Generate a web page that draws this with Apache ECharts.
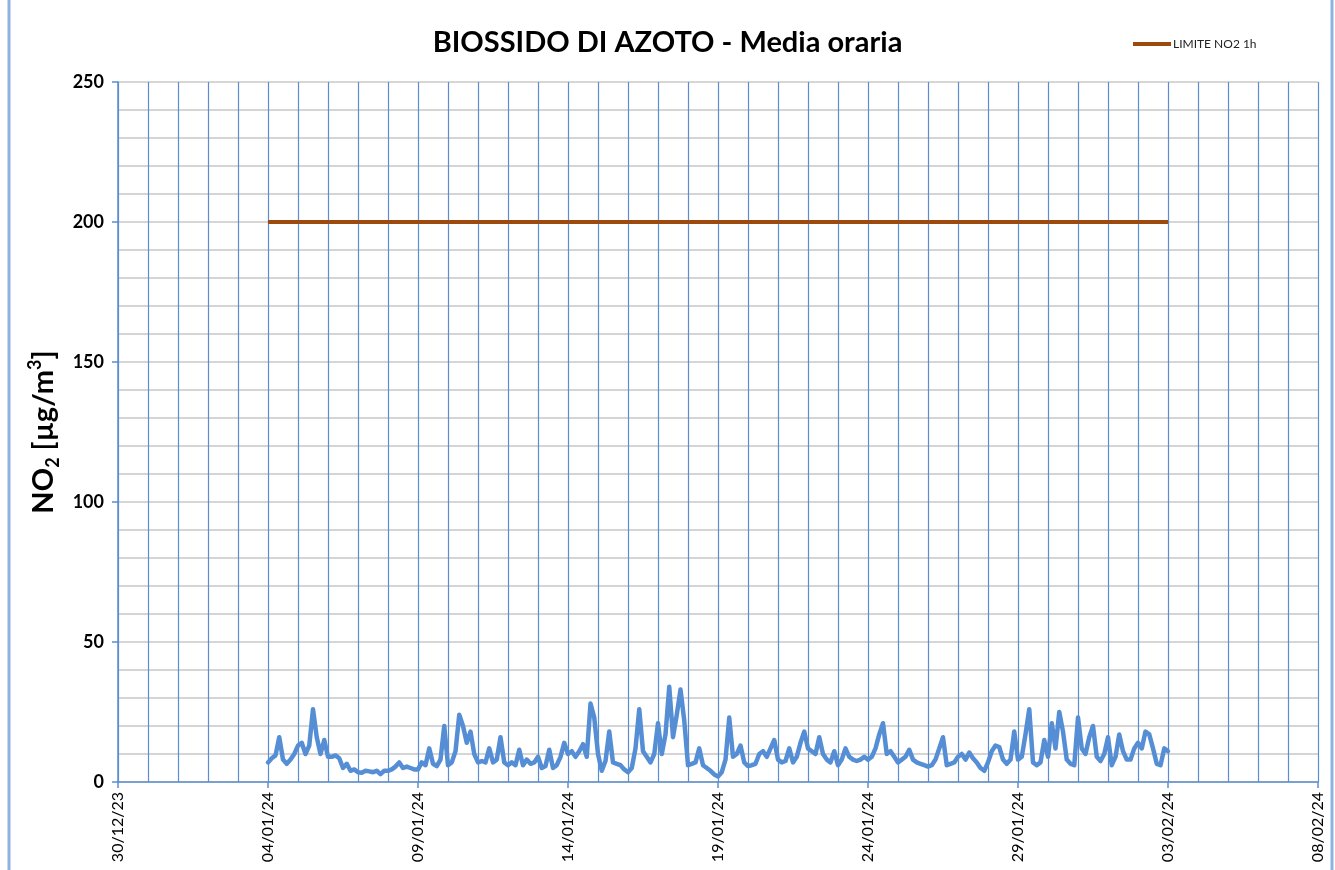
<!DOCTYPE html>
<html>
<head>
<meta charset="utf-8">
<script src="https://cdn.jsdelivr.net/npm/echarts@6/dist/echarts.min.js"></script>
<style>
html,body{margin:0;padding:0;background:#fff;}
#chart{width:1335px;height:870px;}
</style>
</head>
<body>
<div id="chart"></div>
<script>
// x axis: day index counted from 30/12/23 (0) to 08/02/24 (40)
const tickLabels = ['30/12/23','04/01/24','09/01/24','14/01/24','19/01/24','24/01/24','29/01/24','03/02/24','08/02/24'];
const seriesStartDay = 5;        // 04/01/24
const samplesPerDay = 8;         // 3-hour readings
// NO2 hourly mean, sampled every 3 hours, 04/01/24 00:00 -> 03/02/24 00:00
const no2Values = [
  7, 8.5, 9.5, 16, 8, 6.5, 8, 10,
  13, 14, 10, 13, 26, 16, 10, 15,
  9, 9, 9.5, 8.5, 5, 6.5, 4, 4.5,
  3.5, 3.3, 4, 3.8, 3.5, 4, 2.8, 4,
  4, 4.5, 5.5, 7, 5, 5.5, 5, 4.5,
  4.5, 7, 6, 12, 6.5, 5.7, 8, 20,
  6, 7, 11, 24, 20, 14, 18, 10,
  7, 7.5, 7, 12, 7, 8, 16, 7,
  6, 7, 6, 11.5, 6, 8, 6.5, 7,
  9, 5, 5.7, 11.5, 5, 6, 9, 14,
  10, 11, 9, 11, 13.5, 9, 28, 23,
  10, 4, 7.5, 18, 7, 6.5, 6, 4.5,
  3.5, 5, 12, 26, 11, 9, 7, 10,
  21, 10, 17, 34, 16, 24, 33, 22,
  6, 6.5, 7, 12, 6, 5, 4, 2.7,
  2, 3.5, 8, 23, 9, 10, 13, 7,
  5.7, 6, 6.5, 10, 11, 9, 12, 15,
  8, 7, 7.5, 12, 7, 9, 14, 18,
  12, 11, 10, 16, 10, 8, 7, 11,
  6, 8, 12, 9, 8, 7.5, 8, 9,
  8, 9, 12, 17, 21, 10, 11, 9,
  7, 8, 9, 11.5, 8, 7, 6.5, 6,
  5.5, 6, 8, 12, 16, 6, 6.5, 7,
  9, 10, 8, 10.5, 8.5, 7, 5, 4,
  7, 11, 13, 12.5, 8, 6.5, 8, 18,
  8, 9, 17, 26, 7, 6, 7, 15,
  9, 21, 12, 25, 18, 8, 6.5, 6,
  23, 12, 10, 16, 20, 9, 7.5, 10,
  16, 6, 9, 17, 11, 8, 8, 12,
  14, 12, 18, 17, 12, 6.5, 6, 12,
  11
];
const limitStartDay = 5;   // 04/01/24
const limitEndDay = 35;    // 03/02/24
const limitValue = 200;

const no2Data = no2Values.map((v, i) => [seriesStartDay + i / samplesPerDay, v]);
const limitData = [[limitStartDay, limitValue], [limitEndDay, limitValue]];

const chart = echarts.init(document.getElementById('chart'), null, {renderer: 'canvas'});
const blue = '#5b8ed0';
chart.setOption({
  backgroundColor: '#ffffff',
  animation: false,
  title: {
    text: 'BIOSSIDO DI AZOTO - Media oraria',
    left: 'center',
    top: 23,
    textStyle: {fontFamily: 'Lato', fontWeight: 'bold', fontSize: 29, color: '#000'}
  },
  legend: {
    data: ['LIMITE NO2 1h'],
    left: 1128,
    top: 33,
    icon: 'rect',
    itemWidth: 38,
    itemHeight: 4,
    itemGap: 2,
    textStyle: {fontFamily: 'Lato', fontSize: 12, color: '#222', padding: [0, 0, 0, -3]}
  },
  grid: {left: 118, right: 17, top: 82, bottom: 88, containLabel: false},
  xAxis: {
    type: 'value',
    min: 0,
    max: 40,
    interval: 5,
    axisLine: {show: true, lineStyle: {color: blue, width: 1.5}},
    axisTick: {show: true, length: 6, lineStyle: {color: blue, width: 1.5}},
    minorTick: {show: true, splitNumber: 5, length: -3, lineStyle: {color: blue}},
    splitLine: {show: true, lineStyle: {color: blue, width: 1.2}},
    minorSplitLine: {show: true, lineStyle: {color: blue, width: 1.2}},
    axisLabel: {
      rotate: 90,
      margin: 10,
      fontFamily: 'Lato',
      fontSize: 16,
      color: '#000',
      formatter: v => tickLabels[Math.round(v / 5)]
    }
  },
  yAxis: {
    type: 'value',
    min: 0,
    max: 250,
    interval: 50,
    name: '{a|NO}{s|2}{a| [µg/m}{p|3}{a|]}',
    nameLocation: 'middle',
    nameRotate: 90,
    nameGap: 56,
    nameTextStyle: {
      rich: {
        a: {fontFamily: 'Lato', fontWeight: 'bold', fontSize: 29, color: '#000', lineHeight: 36, verticalAlign: 'middle'},
        s: {fontFamily: 'Lato', fontWeight: 'bold', fontSize: 18, color: '#000', lineHeight: 36, verticalAlign: 'bottom', padding: [15, 0, 0, 0]},
        p: {fontFamily: 'Lato', fontWeight: 'bold', fontSize: 18, color: '#000', lineHeight: 36, verticalAlign: 'top', padding: [0, 0, 15, 0]}
      }
    },
    axisLine: {show: true, lineStyle: {color: blue, width: 1.5}},
    axisTick: {show: true, length: 6, lineStyle: {color: blue, width: 1.5}},
    axisLabel: {margin: 14, fontFamily: 'Lato', fontWeight: 'bold', fontSize: 18, color: '#000'},
    splitLine: {show: true, lineStyle: {color: '#c8c8c8', width: 1.5}},
    minorTick: {show: false, splitNumber: 5},
    minorSplitLine: {show: true, lineStyle: {color: '#c8c8c8', width: 1.5}}
  },
  graphic: [
    {type: 'line', shape: {x1: 9, y1: 0, x2: 9, y2: 870}, style: {stroke: '#8fb3e0', lineWidth: 3}, silent: true},
    {type: 'line', shape: {x1: 1332, y1: 0, x2: 1332, y2: 870}, style: {stroke: '#8fb3e0', lineWidth: 3}, silent: true}
  ],
  series: [
    {
      name: 'NO2',
      type: 'line',
      data: no2Data,
      symbol: 'none',
      lineStyle: {color: '#558ed5', width: 4.5, join: 'round', cap: 'round'},
      itemStyle: {color: '#558ed5'},
      z: 3
    },
    {
      name: 'LIMITE NO2 1h',
      type: 'line',
      data: limitData,
      symbol: 'none',
      lineStyle: {color: '#9c4a0e', width: 4},
      itemStyle: {color: '#9c4a0e'},
      z: 4
    }
  ]
});
</script>
</body>
</html>
